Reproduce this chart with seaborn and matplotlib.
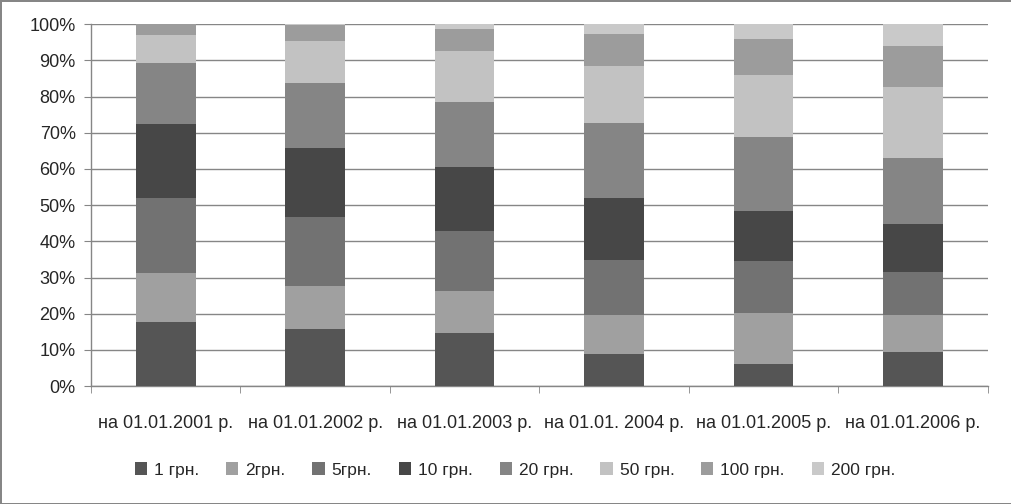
import matplotlib.pyplot as plt
import seaborn as sns
import numpy as np
from matplotlib.ticker import PercentFormatter

dates = ["на 01.01.2001 р.", "на 01.01.2002 р.", "на 01.01.2003 р.",
         "на 01.01. 2004 р.", "на 01.01.2005 р.", "на 01.01.2006 р."]
nominaly = ["1 грн.", "2грн.", "5грн.", "10 грн.", "20 грн.", "50 грн.", "100 грн.", "200 грн."]

# частки номіналів, % (кожен список - по датах)
grn1 = [17.7, 15.7, 14.6, 8.8, 6.1, 9.4]
grn2 = [13.5, 11.9, 11.6, 10.8, 14.1, 10.2]
grn5 = [20.7, 19.1, 16.6, 15.2, 14.3, 11.9]
grn10 = [20.5, 19.0, 17.7, 17.1, 13.8, 13.3]
grn20 = [16.8, 18.0, 18.0, 20.8, 20.5, 18.2]
grn50 = [7.8, 11.6, 14.0, 15.7, 17.1, 19.6]
grn100 = [3.0, 4.4, 6.1, 8.8, 10.0, 11.3]
grn200 = [0.0, 0.3, 1.4, 2.8, 4.1, 6.1]

kolory = ["#555555", "#a0a0a0", "#727272", "#474747", "#858585", "#c2c2c2", "#9c9c9c", "#c9c9c9"]

sns.set_style("white")
plt.rcParams['font.family'] = ['Liberation Sans', 'DejaVu Sans']

fig = plt.figure(figsize=(10.12, 5.04), dpi=100)
fig.patch.set_edgecolor("#868686")
fig.patch.set_linewidth(2)
ax = fig.add_axes([0.0899, 0.234, 0.886, 0.718])

serii = [grn1, grn2, grn5, grn10, grn20, grn50, grn100, grn200]
niz = np.zeros(len(dates))
for nazva, dani, kolir in zip(nominaly, serii, kolory):
    sns.barplot(x=dates, y=dani, bottom=niz, color=kolir, width=0.4,
                saturation=1, label=nazva, ax=ax, linewidth=0, zorder=3)
    niz = niz + np.array(dani)

ax.set_ylim(0, 100)
ax.set_xlim(-0.5, len(dates) - 0.5)
ax.set_yticks(np.arange(0, 101, 10))
ax.yaxis.set_major_formatter(PercentFormatter(decimals=0))
ax.grid(axis="y", color="#868686", linewidth=1, zorder=0)
for s in ["top", "right"]:
    ax.spines[s].set_visible(False)
for s in ["left", "bottom"]:
    ax.spines[s].set_color("#868686")
    ax.spines[s].set_linewidth(1)

ax.set_xticks(np.arange(len(dates)))
ax.set_xticklabels(dates)
ax.set_xticks(np.arange(len(dates) + 1) - 0.5, minor=True)
ax.tick_params(axis="x", which="major", length=0, pad=21, labelsize=13)
ax.tick_params(axis="x", which="minor", length=5, color="#868686", direction="out")
ax.tick_params(axis="y", length=5, color="#868686", direction="out", labelsize=13, pad=6)
ax.tick_params(axis="both", bottom=True, left=True, which="both")
ax.set_xlabel("")
ax.set_ylabel("")

ax.legend(loc="center", bbox_to_anchor=(0.473, -0.232), ncol=8, frameon=False,
          fontsize=12.5, handlelength=0.7, handleheight=0.7, handletextpad=0.4,
          columnspacing=1.55)

plt.savefig("out.png", dpi=100)
